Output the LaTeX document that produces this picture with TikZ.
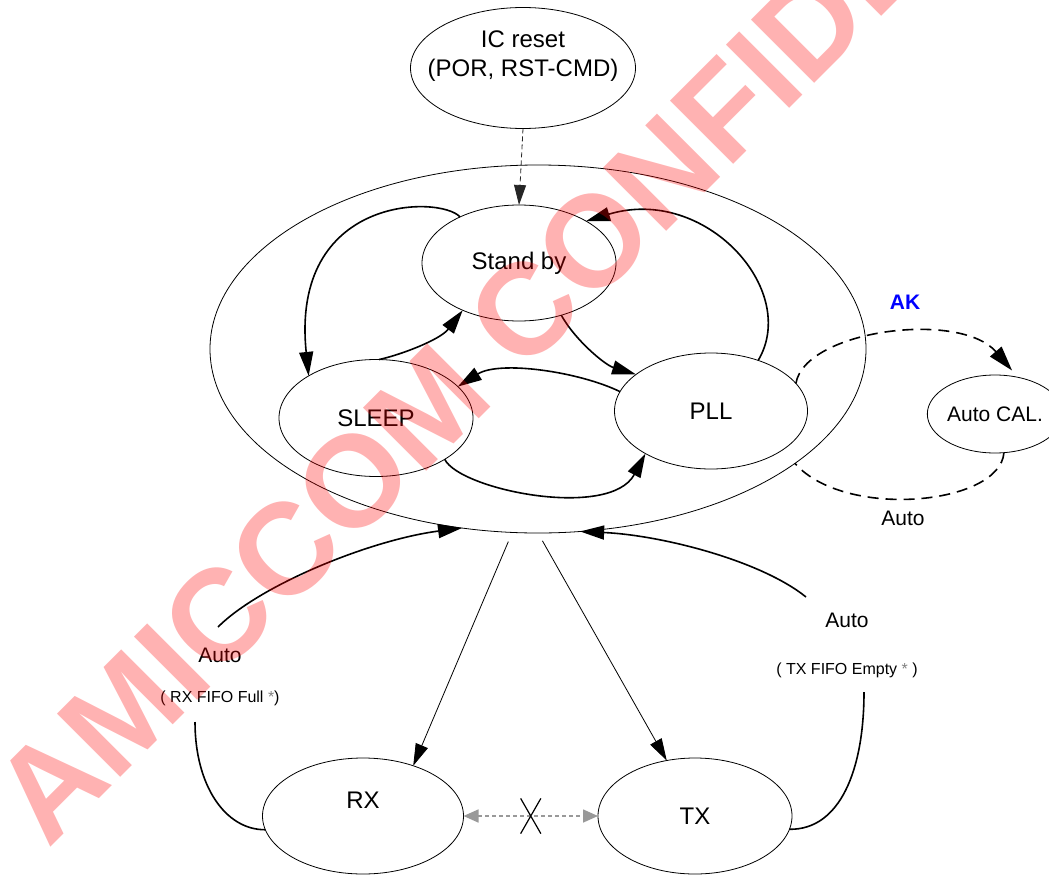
\documentclass[tikz,border=0pt]{standalone}
\usepackage{fontspec}
\setmainfont{Liberation Sans}
\usetikzlibrary{arrows.meta,shapes.geometric,shapes.misc}

\tikzset{
  statefont/.style={font=\fontsize{24bp}{29bp}\selectfont},
  state/.style={draw,ellipse,line width=0.8bp,inner sep=0pt,outer sep=0pt,minimum width=194bp,minimum height=116bp,statefont},
  tag/.style={inner sep=0pt,font=\fontsize{21bp}{25bp}\selectfont},
  note/.style={inner sep=0pt,font=\fontsize{16bp}{19bp}\selectfont},
  move/.style={-{Triangle[length=24bp,width=14bp]},line width=1.6bp},
  feed/.style={-{Triangle[length=22bp,width=13bp]},line width=0.8bp},
  calpath/.style={dash pattern=on 11bp off 7bp,line width=1.6bp},
}

\begin{document}
\begin{tikzpicture}
\useasboundingbox (0bp,0bp) rectangle (1049bp,-875bp);

\node (outer) at (538bp,-349bp)[draw,ellipse,line width=0.8bp,inner sep=0pt,outer sep=0pt,minimum width=656bp,minimum height=368bp] {};
\node (reset) at (523bp,-68bp)[state,minimum width=225bp,minimum height=121bp,label={[statefont,align=center,inner sep=0pt,yshift=12bp]center:IC reset\\(POR, RST-CMD)}] {};
\node (standby) at (519bp,-263bp)[state] {Stand by};
\node (sleep) at (376bp,-418bp)[state,minimum height=117bp] {SLEEP};
\node (pll) at (711bp,-411bp)[state,minimum width=193bp] {PLL};
\node (autocal) at (995bp,-414bp)[state,minimum width=112bp,minimum height=78bp,font=\fontsize{21bp}{25bp}\selectfont] {Auto CAL.};
\node (rx) at (363bp,-816bp)[state,minimum width=201bp,label={[statefont,inner sep=0pt,yshift=16bp]center:RX}] {};
\node (tx) at (695bp,-816bp)[state] {TX};

\node (ak) at (905bp,-302bp)[tag,font=\fontsize{21bp}{25bp}\selectfont\bfseries,text=blue] {AK};
\node (autoback) at (903bp,-518bp)[tag] {Auto};
\node (autorx) at (220bp,-655bp)[tag] {Auto};
\node (rxfull) at (220bp,-698bp)[note] {( RX FIFO Full {\color{gray}*})};
\node (autotx) at (847bp,-620bp)[tag] {Auto};
\node (txempty) at (847bp,-670bp)[note] {( TX FIFO Empty {\color{gray}*} )};

\coordinate (rxstart) at (218bp,-627bp);
\coordinate (rxtop) at (195bp,-722bp);
\coordinate (txstart) at (806bp,-597bp);
\coordinate (txtop) at (864bp,-692bp);

\draw [-{Triangle[length=20bp,width=12bp]},dash pattern=on 5bp off 3bp,line width=0.8bp,black!85] (reset.south) -- (standby.north);
\draw [move] (standby.142) .. controls (440bp,-195bp) and (290bp,-195bp) .. (sleep.148);
\draw [move] (sleep.87) .. controls (400bp,-355bp) and (440bp,-340bp) .. (standby.220);
\draw [move] (standby.-51) .. controls (575bp,-340bp) and (605bp,-365bp) .. (pll.154);
\draw [move] (pll.168) .. controls (580bp,-372bp) and (500bp,-360bp) .. (sleep.21);
\draw [move] (sleep.-31) .. controls (460bp,-490bp) and (610bp,-520bp) .. (pll.-147);
\draw [move] (pll.47) .. controls (800bp,-290bp) and (705bp,-185bp) .. (standby.32);
\draw [calpath,-{Triangle[length=25bp,width=15bp]},shorten >=9bp] (pll.18) .. controls (805bp,-330bp) and (960bp,-310bp) .. (autocal.58);
\draw [calpath] (autocal.-77) .. controls (1000bp,-505bp) and (845bp,-520bp) .. (outer.-24);
\draw [move] (rxstart) .. controls (260bp,-585bp) and (370bp,-540bp) .. (outer.-113);
\draw [move] (txstart) .. controls (760bp,-560bp) and (660bp,-535bp) .. (outer.-77);
\draw [feed,shorten <=10bp] (outer.-98) -- (rx.45);
\draw [feed,shorten <=9bp] (outer.-90) -- (tx.117);
\draw [line width=1.6bp] (rx.188) .. controls (225bp,-830bp) and (195bp,-785bp) .. (rxtop);
\draw [line width=1.6bp] (tx.-8) .. controls (840bp,-830bp) and (864bp,-770bp) .. (txtop);
\draw [{Triangle[length=15bp,width=13bp]}-{Triangle[length=15bp,width=13bp]},gray!80,dash pattern=on 4bp off 3bp,line width=1.6bp] (rx.east) -- node (nogo)[draw=black,solid,cross out,line width=1.2bp,inner sep=0pt,minimum width=19bp,minimum height=34bp] {} (tx.west);

\begin{scope}
\clip (0bp,0bp) rectangle (1049bp,-875bp);
\node (mark) at (48bp,-850bp)[anchor=base west,rotate=45,inner sep=0pt,text=red,text opacity=0.3,font=\fontsize{130bp}{130bp}\selectfont\bfseries] {AMICCOM CONFIDENTIAL};
\end{scope}
\end{tikzpicture}
\end{document}
